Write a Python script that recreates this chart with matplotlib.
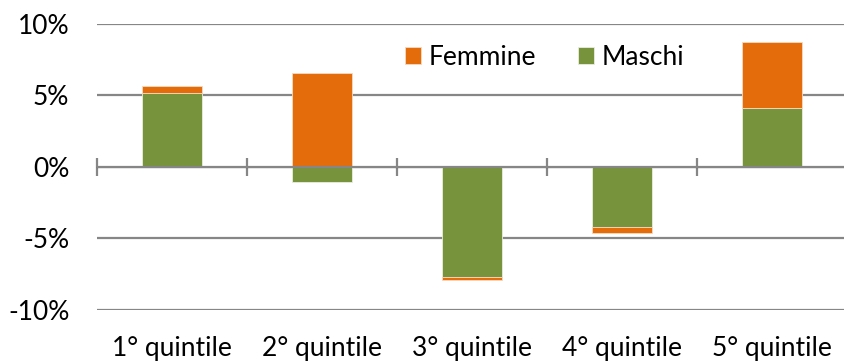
import matplotlib.pyplot as plt
import numpy as np

plt.rcParams['font.family'] = ['Lato', 'DejaVu Sans']

categories = ['1° quintile', '2° quintile', '3° quintile', '4° quintile', '5° quintile']
maschi = [5.15, -1.07, -7.68, -4.19, 4.14]
femmine = [0.51, 6.55, -0.24, -0.42, 4.61]
yticks = [-10, -5, 0, 5, 10]

col_f = '#E46C0A'
col_m = '#77933C'
grid_col = '#868686'

fig = plt.figure(figsize=(8.44, 3.62), dpi=100)
ax = fig.add_axes([0.115, 0.1436, 0.8886, 0.791])

x = np.arange(len(categories))
m = np.array(maschi)
f = np.array(femmine)
# femmine stacks on maschi when both have the same sign, otherwise starts at 0
f_bottom = np.where(np.sign(m) == np.sign(f), m, 0)

ax.bar(x, m, width=0.4, color=col_m, edgecolor='#e8eedd', linewidth=0.6, label='Maschi', zorder=3)
ax.bar(x, f, width=0.4, bottom=f_bottom, color=col_f, edgecolor='#f6d9c0', linewidth=0.6,
       label='Femmine', zorder=3)

ax.set_xlim(-0.5, len(categories) - 0.5)
ax.set_ylim(-10, 10)
ax.set_yticks(yticks)
ax.set_yticklabels(['%d%%' % v for v in yticks])
for v in yticks:
    if v != 0:
        ax.axhline(v, color=grid_col, linewidth=1.6, zorder=1)
ax.axhline(0, color=grid_col, linewidth=1.6, zorder=4)

ax.set_xticks(x)
ax.set_xticklabels(categories)
ax.tick_params(axis='x', length=0, pad=19, labelsize=19)
ax.tick_params(axis='y', length=0, pad=20, labelsize=19)
for s in ['top', 'right', 'left', 'bottom']:
    ax.spines[s].set_visible(False)

# category separators on the zero line
sec = ax.secondary_xaxis(0.5)
sec.set_xticks(np.arange(len(categories) + 1) - 0.5)
sec.set_xticklabels([])
sec.tick_params(length=13, width=1.6, color=grid_col, direction='inout')
sec.spines['bottom'].set_visible(False)

handles, labels = ax.get_legend_handles_labels()
ax.legend(handles[::-1], labels[::-1], loc='upper center', bbox_to_anchor=(0.597, 1.01),
          ncol=2, frameon=False, fontsize=19, handlelength=0.6, handleheight=0.6,
          handletextpad=0.3, columnspacing=1.6)

fig.savefig('out.png', dpi=100)
